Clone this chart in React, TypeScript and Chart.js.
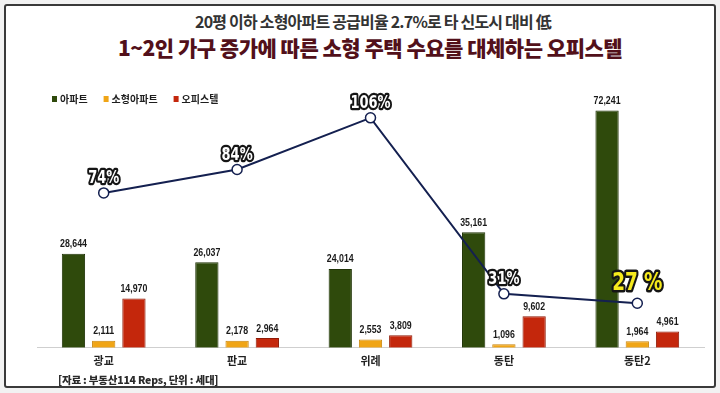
import React, { useEffect, useRef } from "react";
import { Chart, registerables } from "chart.js";

Chart.register(...registerables);

const categories = ["광교", "판교", "위례", "동탄", "동탄2"];
const apartment = [28644, 26037, 24014, 35161, 72241];
const smallApartment = [2111, 2178, 2553, 1096, 1964];
const officetel = [14970, 2964, 3809, 9602, 4961];
const smallRatio = [7.4, 8.4, 10.6, 3.1, 2.7];
const ratioLabels = ["74%", "84%", "106%", "31%", "27 %"];
const seriesNames = ["아파트", "소형아파트", "오피스텔", "소형아파트 공급비율"];

const titleLine1 = "20평 이하 소형아파트 공급비율 2.7%로 타 신도시 대비 低";
const titleLine2 = "1~2인 가구 증가에 따른 소형 주택 수요를 대체하는 오피스텔";
const sourceNote = "[자료 : 부동산114 Reps, 단위 : 세대]";

const KR = '"Noto Sans CJK KR", "Noto Sans", sans-serif';
const COND = '"DejaVu Sans Condensed", "DejaVu Sans", sans-serif';
const NUM = '"Liberation Sans", Arial, sans-serif';

const labelPlugin = {
  id: "valueLabels",
  afterDatasetsDraw(chart: any) {
    const ctx = chart.ctx;
    ctx.save();
    // bar values
    for (let d = 0; d < 3; d++) {
      const meta = chart.getDatasetMeta(d);
      const data = chart.data.datasets[d].data as number[];
      meta.data.forEach((el: any, i: number) => {
        ctx.save();
        ctx.translate(el.x, el.y - 4);
        ctx.scale(0.8, 1);
        ctx.font = `bold 11px ${NUM}`;
        ctx.fillStyle = "#1a1a1a";
        ctx.textAlign = "center";
        ctx.textBaseline = "bottom";
        ctx.fillText(data[i].toLocaleString("en-US"), 0, 0);
        ctx.restore();
      });
    }
    // ratio labels
    const lm = chart.getDatasetMeta(3);
    lm.data.forEach((el: any, i: number) => {
      const last = i === lm.data.length - 1;
      const size = last ? 24 : 17;
      const y = el.y - (last ? 19 : 14);
      ctx.save();
      ctx.translate(el.x, y);
      ctx.scale(0.85, 1);
      ctx.font = `bold ${size}px ${COND}`;
      ctx.textAlign = "center";
      ctx.textBaseline = "middle";
      ctx.lineJoin = "round";
      ctx.lineWidth = last ? 5 : 4.5;
      ctx.strokeStyle = "#151515";
      ctx.strokeText(ratioLabels[i], 0, 0);
      ctx.fillStyle = last ? "#f6ea1c" : "#ffffff";
      ctx.fillText(ratioLabels[i], 0, 0);
      ctx.restore();
    });
    ctx.restore();
  },
};

const legendPlugin = {
  id: "insideLegend",
  afterDraw(chart: any) {
    const ctx = chart.ctx;
    const area = chart.chartArea;
    let x = area.left + 15;
    const y = area.top + 14;
    ctx.save();
    ctx.font = `bold 10px ${KR}`;
    ctx.textAlign = "left";
    ctx.textBaseline = "middle";
    for (let d = 0; d < 3; d++) {
      const ds = chart.data.datasets[d];
      ctx.fillStyle = ds.backgroundColor;
      ctx.fillRect(x, y - 3, 5, 6);
      ctx.fillStyle = "#1e1e1e";
      ctx.fillText(ds.label, x + 8, y);
      x += 8 + ctx.measureText(ds.label).width + 16;
    }
    ctx.restore();
  },
};

export default function App() {
  const ref = useRef<HTMLCanvasElement>(null);

  useEffect(() => {
    document.body.style.margin = "0";
    const chart = new Chart(ref.current as HTMLCanvasElement, {
      type: "bar",
      data: {
        labels: categories,
        datasets: [
          {
            label: seriesNames[0],
            data: apartment,
            backgroundColor: "#2f4a0c",
            borderColor: "#1f3306",
            borderWidth: 1,
            yAxisID: "y",
            order: 1,
          },
          {
            label: seriesNames[1],
            data: smallApartment,
            backgroundColor: "#f0a516",
            borderColor: "#c9840a",
            borderWidth: 1,
            yAxisID: "y",
            order: 1,
          },
          {
            label: seriesNames[2],
            data: officetel,
            backgroundColor: "#c4270c",
            borderColor: "#8f1a06",
            borderWidth: 1,
            yAxisID: "y",
            order: 1,
          },
          {
            type: "line",
            label: seriesNames[3],
            data: smallRatio,
            borderColor: "#142050",
            borderWidth: 2,
            pointRadius: 5,
            pointBackgroundColor: "#ffffff",
            pointBorderColor: "#142050",
            pointBorderWidth: 1.5,
            tension: 0,
            yAxisID: "y2",
            order: 0,
          } as any,
        ],
      },
      options: {
        responsive: false,
        animation: false,
        devicePixelRatio: 1,
        layout: { padding: { left: 37, right: 16, top: 85, bottom: 20 } },
        datasets: {
          bar: { categoryPercentage: 0.68, barPercentage: 0.77 },
        },
        scales: {
          x: {
            grid: { display: false, drawTicks: false },
            border: { display: true, color: "#cfcfcf", width: 1 },
            ticks: {
              padding: 6,
              color: "#222",
              font: { family: KR, size: 11, weight: "bold" },
            },
          },
          y: { display: false, min: 0, max: 80000 },
          y2: { display: false, min: 0.8, max: 12 },
        },
        plugins: {
          legend: { display: false },
          tooltip: { enabled: false },
        },
      },
      plugins: [labelPlugin, legendPlugin],
    });
    return () => chart.destroy();
  }, []);

  return (
    <div
      style={{
        position: "fixed",
        left: 0,
        top: 0,
        width: 720,
        height: 393,
        background: "#f2f2f2",
        overflow: "hidden",
      }}
    >
      <div
        style={{
          position: "absolute",
          left: 4,
          top: 4,
          width: 708,
          height: 380,
          border: "2px solid #3a3a3a",
          borderRadius: 3,
          background: "#ffffff",
        }}
      />
      <div
        style={{
          position: "absolute",
          left: 0,
          width: 746,
          top: 9,
          textAlign: "center",
          fontFamily: KR,
          fontSize: 16,
          fontWeight: 700,
          color: "#333",
          letterSpacing: -0.8,
          whiteSpace: "nowrap",
        }}
      >
        {titleLine1}
      </div>
      <div
        style={{
          position: "absolute",
          left: 0,
          width: 740,
          top: 32,
          textAlign: "center",
          fontFamily: KR,
          fontSize: 21,
          fontWeight: 900,
          color: "#52101a",
          letterSpacing: -0.5,
          whiteSpace: "nowrap",
        }}
      >
        {titleLine2}
      </div>
      <canvas
        ref={ref}
        width={720}
        height={393}
        style={{ position: "absolute", left: 0, top: 0, width: 720, height: 393 }}
      />
      <div
        style={{
          position: "absolute",
          left: 58,
          top: 372,
          fontFamily: KR,
          fontSize: 10.5,
          fontWeight: 800,
          color: "#2a2a2a",
          letterSpacing: -0.2,
          whiteSpace: "nowrap",
        }}
      >
        {sourceNote}
      </div>
    </div>
  );
}
